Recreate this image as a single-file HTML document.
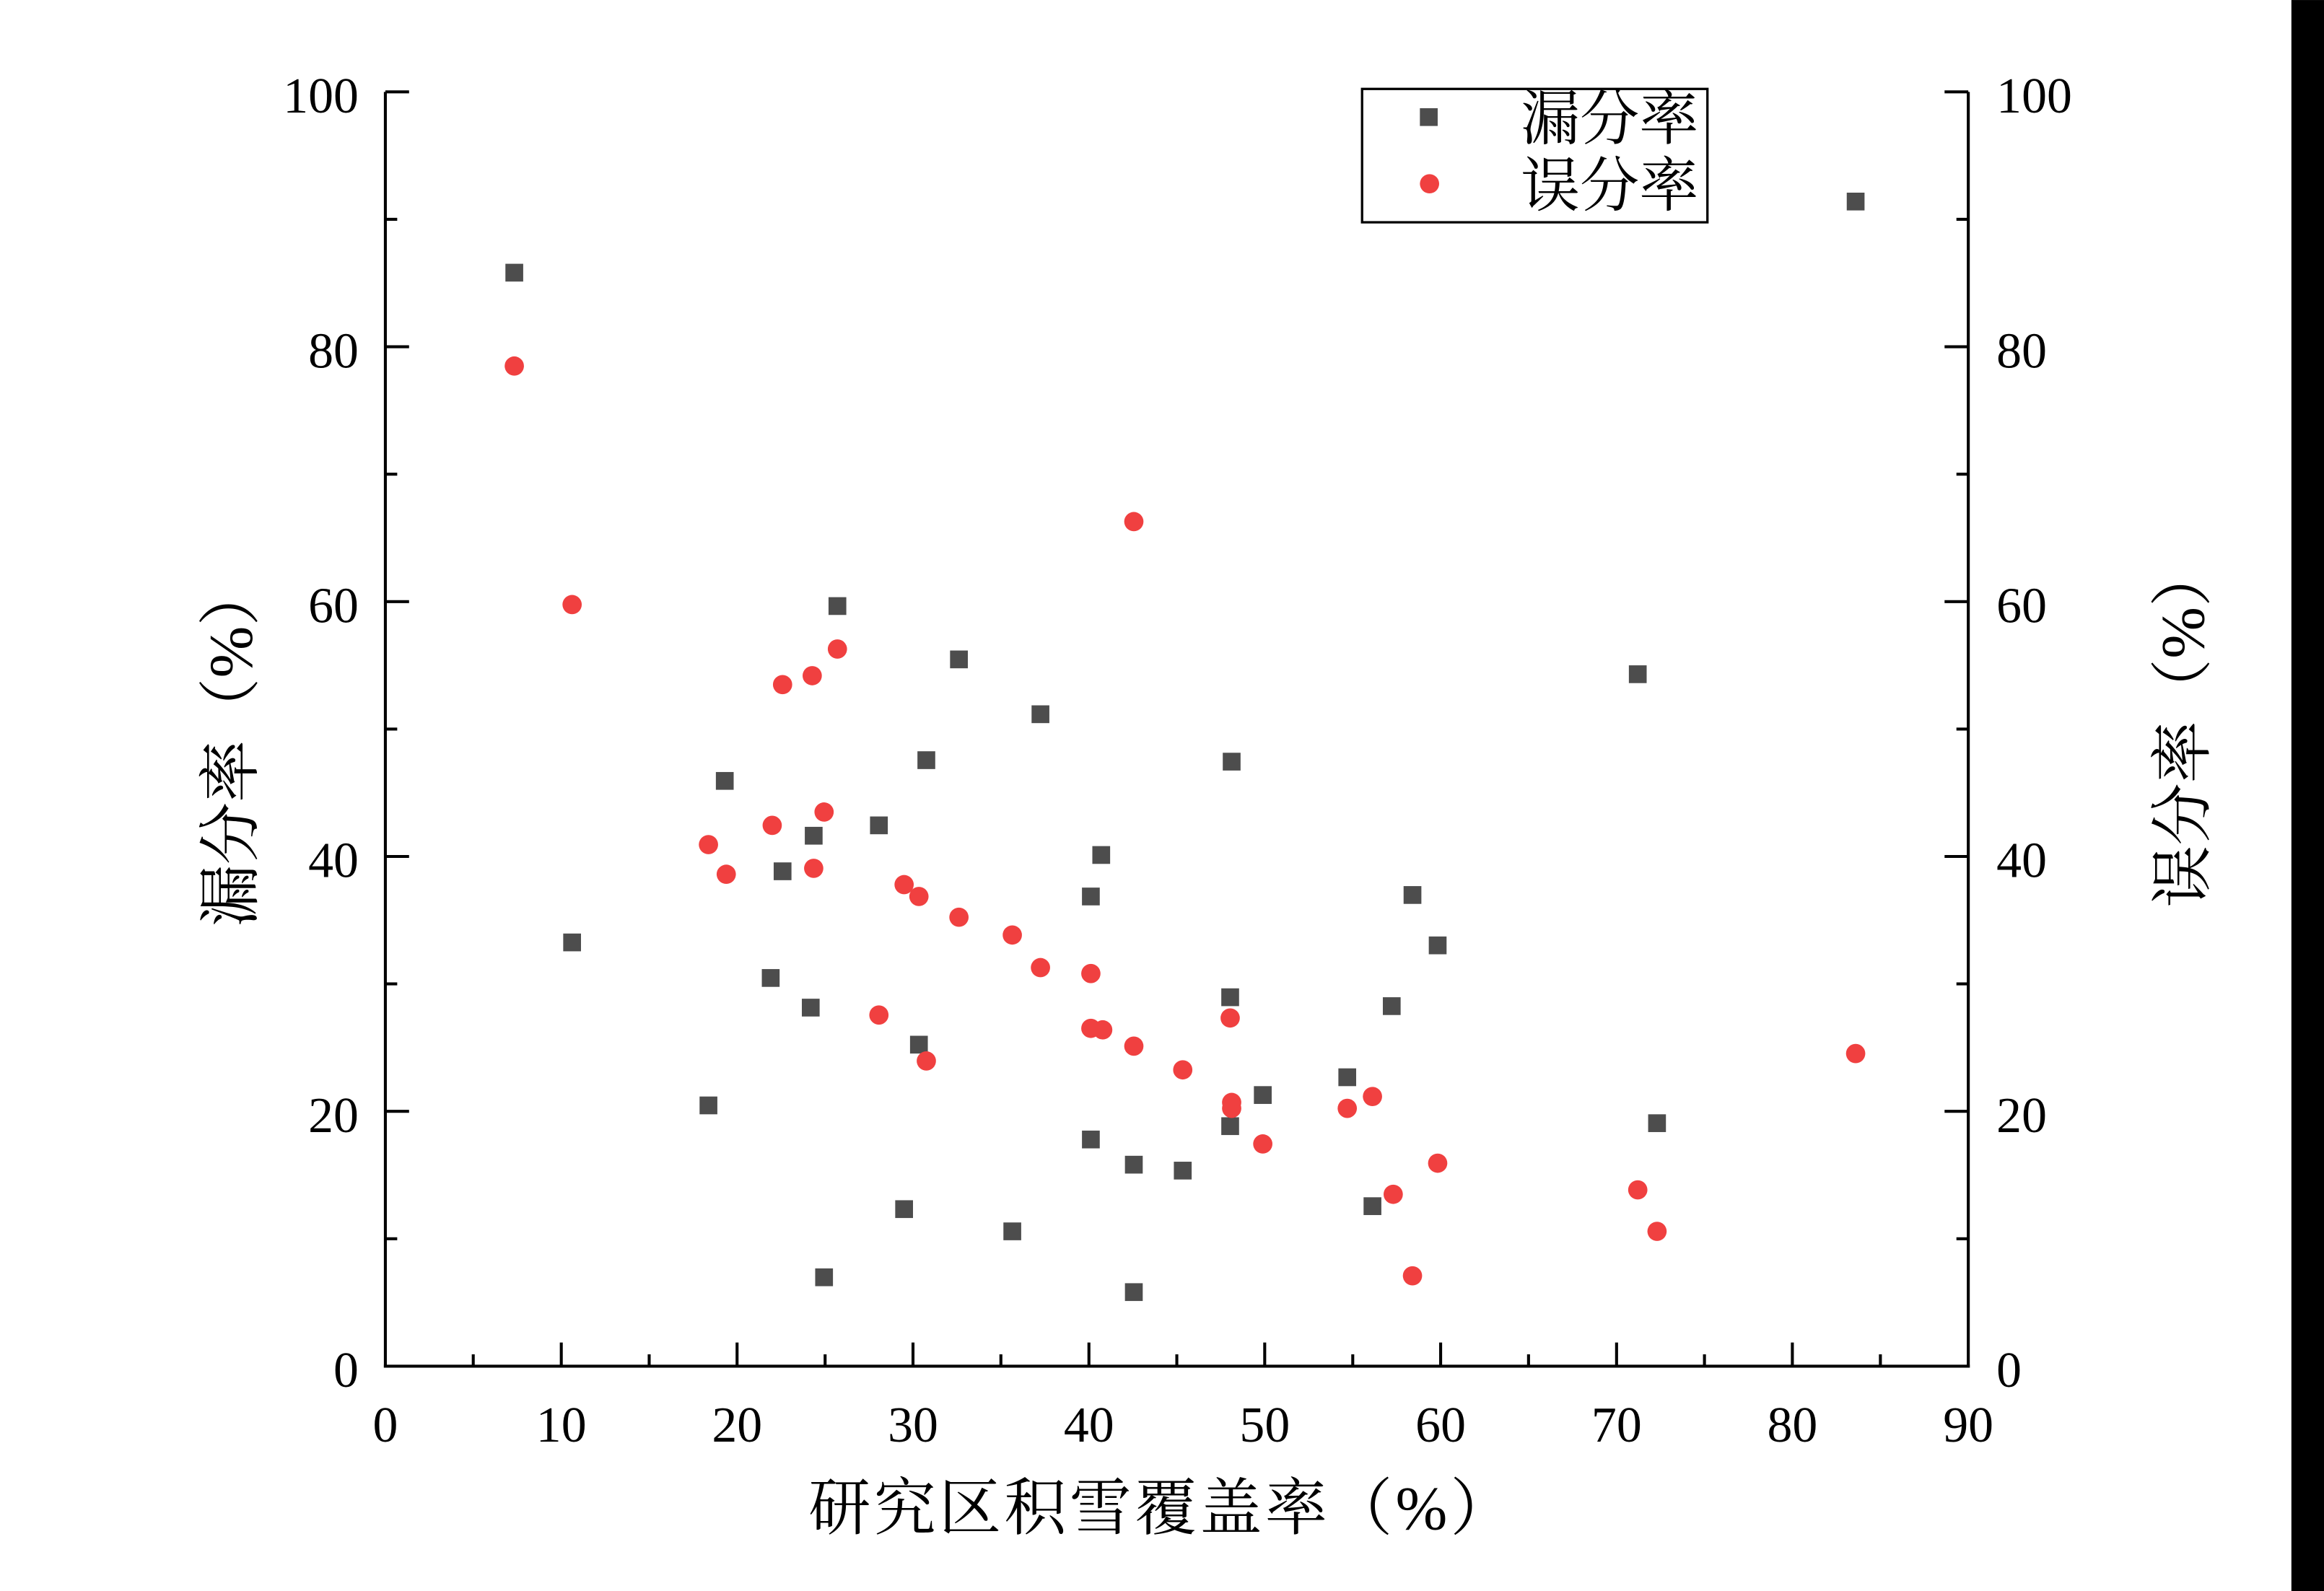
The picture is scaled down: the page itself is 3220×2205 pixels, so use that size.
<!DOCTYPE html>
<html><head><meta charset="utf-8"><style>html,body{margin:0;padding:0;background:#fff}svg{display:block}</style></head>
<body>
<svg width="3220" height="2205" viewBox="0 0 1568 1073.7" xmlns="http://www.w3.org/2000/svg">
<rect width="1568" height="1074" fill="#fff"/>
<rect x="1546" y="0" width="22" height="1074" fill="#000"/>
<g stroke="#000" stroke-width="2" fill="none">
<line x1="260" y1="62" x2="260" y2="923"/>
<line x1="1328" y1="62" x2="1328" y2="923"/>
<line x1="259" y1="922" x2="1329" y2="922"/>
<path d="M260 62h16M260 148h8M260 234h16M260 320h8M260 406h16M260 492h8M260 578h16M260 664h8M260 750h16M260 836h8
M1328 62h-16M1328 148h-8M1328 234h-16M1328 320h-8M1328 406h-16M1328 492h-8M1328 578h-16M1328 664h-8M1328 750h-16M1328 836h-8
M319.3 922v-8M378.7 922v-16M438 922v-8M497.3 922v-16M556.7 922v-8M616 922v-16M675.3 922v-8M734.7 922v-16M794 922v-8M853.3 922v-16M912.7 922v-8M972 922v-16M1031.3 922v-8M1090.7 922v-16M1150 922v-8M1209.3 922v-16M1268.7 922v-8"/>
</g>
<g font-family="Liberation Serif, serif" font-size="34" fill="#000">
<g text-anchor="end">
<text x="242" y="76">100</text><text x="242" y="248">80</text><text x="242" y="420">60</text><text x="242" y="592">40</text><text x="242" y="764">20</text><text x="242" y="936">0</text>
</g>
<g text-anchor="start">
<text x="1347" y="76">100</text><text x="1347" y="248">80</text><text x="1347" y="420">60</text><text x="1347" y="592">40</text><text x="1347" y="764">20</text><text x="1347" y="936">0</text>
</g>
<g text-anchor="middle">
<text x="260" y="973">0</text><text x="378.7" y="973">10</text><text x="497.3" y="973">20</text><text x="616" y="973">30</text><text x="734.7" y="973">40</text><text x="853.3" y="973">50</text><text x="972" y="973">60</text><text x="1090.7" y="973">70</text><text x="1209.3" y="973">80</text><text x="1328" y="973">90</text>
</g>
</g>
<g font-family="Liberation Serif, 'Noto Serif CJK SC', serif" font-size="42" fill="#000" text-anchor="middle">
<text x="784" y="1032" letter-spacing="2">研究区积雪覆盖率（%）</text>
<text transform="translate(170,503) rotate(-90)">漏分率（%）</text>
<text transform="translate(1487,490) rotate(-90)">误分率（%）</text>
</g>
<rect x="919" y="60" width="233" height="90" fill="#fff" stroke="#000" stroke-width="1.6"/>
<rect x="958" y="73" width="12" height="12" fill="#4d4d4d"/>
<circle cx="964.5" cy="124" r="6.5" fill="#f04040"/>
<g font-family="Liberation Serif, 'Noto Serif CJK SC', serif" font-size="40" fill="#000">
<text x="1026" y="94">漏分率</text><text x="1026" y="139">误分率</text>
</g>
<g fill="#4d4d4d">
<rect x="341" y="178" width="12" height="12"/><rect x="380" y="630" width="12" height="12"/><rect x="472" y="740" width="12" height="12"/><rect x="483" y="521" width="12" height="12"/><rect x="514" y="654" width="12" height="12"/><rect x="522" y="582" width="12" height="12"/><rect x="541" y="674" width="12" height="12"/><rect x="543" y="558" width="12" height="12"/><rect x="550" y="856" width="12" height="12"/><rect x="559" y="403" width="12" height="12"/><rect x="587" y="551" width="12" height="12"/><rect x="604" y="810" width="12" height="12"/><rect x="614" y="699" width="12" height="12"/><rect x="619" y="507" width="12" height="12"/><rect x="641" y="439" width="12" height="12"/><rect x="677" y="825" width="12" height="12"/><rect x="696" y="476" width="12" height="12"/><rect x="730" y="599" width="12" height="12"/><rect x="730" y="763" width="12" height="12"/><rect x="737" y="571" width="12" height="12"/><rect x="759" y="780" width="12" height="12"/><rect x="759" y="866" width="12" height="12"/><rect x="792" y="784" width="12" height="12"/><rect x="824" y="667" width="12" height="12"/><rect x="824" y="754" width="12" height="12"/><rect x="825" y="508" width="12" height="12"/><rect x="846" y="733" width="12" height="12"/><rect x="903" y="721" width="12" height="12"/><rect x="920" y="808" width="12" height="12"/><rect x="933" y="673" width="12" height="12"/><rect x="947" y="598" width="12" height="12"/><rect x="964" y="632" width="12" height="12"/><rect x="1099" y="449" width="12" height="12"/><rect x="1112" y="752" width="12" height="12"/><rect x="1246" y="130" width="12" height="12"/>
</g>
<g fill="#f04040">
<circle cx="347" cy="247" r="6.5"/><circle cx="386" cy="408" r="6.5"/><circle cx="478" cy="570" r="6.5"/><circle cx="490" cy="590" r="6.5"/><circle cx="521" cy="557" r="6.5"/><circle cx="528" cy="462" r="6.5"/><circle cx="548" cy="456" r="6.5"/><circle cx="549" cy="586" r="6.5"/><circle cx="556" cy="548" r="6.5"/><circle cx="565" cy="438" r="6.5"/><circle cx="593" cy="685" r="6.5"/><circle cx="610" cy="597" r="6.5"/><circle cx="620" cy="605" r="6.5"/><circle cx="625" cy="716" r="6.5"/><circle cx="647" cy="619" r="6.5"/><circle cx="683" cy="631" r="6.5"/><circle cx="702" cy="653" r="6.5"/><circle cx="736" cy="657" r="6.5"/><circle cx="736" cy="694" r="6.5"/><circle cx="744" cy="695" r="6.5"/><circle cx="765" cy="706" r="6.5"/><circle cx="765" cy="352" r="6.5"/><circle cx="798" cy="722" r="6.5"/><circle cx="830" cy="687" r="6.5"/><circle cx="831" cy="744" r="6.5"/><circle cx="831" cy="748" r="6.5"/><circle cx="852" cy="772" r="6.5"/><circle cx="909" cy="748" r="6.5"/><circle cx="926" cy="740" r="6.5"/><circle cx="940" cy="806" r="6.5"/><circle cx="953" cy="861" r="6.5"/><circle cx="970" cy="785" r="6.5"/><circle cx="1105" cy="803" r="6.5"/><circle cx="1118" cy="831" r="6.5"/><circle cx="1252" cy="711" r="6.5"/>
</g>
</svg>
</body></html>
